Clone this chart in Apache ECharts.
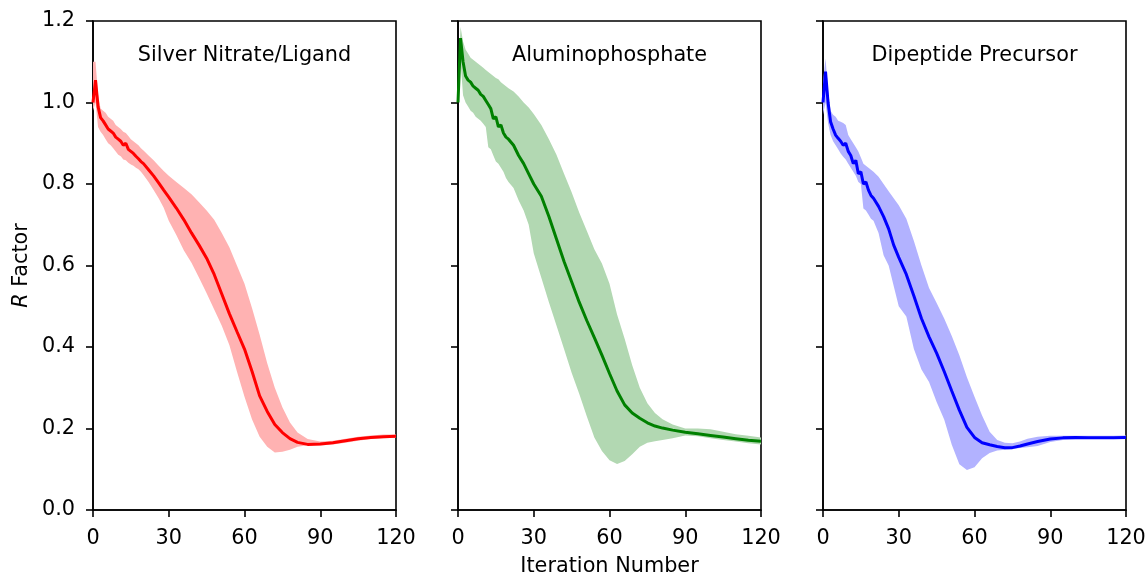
<!DOCTYPE html>
<html>
<head>
<meta charset="utf-8">
<script src="https://cdn.jsdelivr.net/npm/echarts@6/dist/echarts.min.js"></script>
<style>
  html, body { margin: 0; padding: 0; background: #fff; }
  #chart { width: 1145px; height: 577px; }
</style>
</head>
<body>
<div id="chart"></div>
<script>
// iteration grid shared by all three panels
const iters = [0,1,2,3,4,5,6,7,8,9,10,11,12,13,14,15,16,17,18,19,20,22,24,26,28,30,33,36,39,42,45,48,51,54,57,60,63,66,69,72,75,78,81,85,90,95,100,105,110,115,120]

const panelTitles = ['Silver Nitrate/Ligand', 'Aluminophosphate', 'Dipeptide Precursor']
const yTicks = [0, 0.2, 0.4, 0.6, 0.8, 1.0, 1.2]
const xTicks = [0, 30, 60, 90, 120]

// silver nitrate / ligand
const redMean = [1.00,1.055,0.99,0.963,0.955,0.945,0.935,0.93,0.925,0.915,0.91,0.905,0.895,0.9,0.885,0.88,0.875,0.868,0.862,0.855,0.85,0.835,0.82,0.803,0.785,0.768,0.741,0.712,0.68,0.65,0.618,0.578,0.53,0.482,0.438,0.395,0.34,0.28,0.242,0.21,0.19,0.175,0.166,0.161,0.162,0.165,0.17,0.175,0.178,0.18,0.181]
const redLow = [0.98,1.0,0.94,0.928,0.92,0.91,0.9,0.895,0.888,0.88,0.872,0.868,0.86,0.858,0.852,0.848,0.845,0.84,0.836,0.83,0.822,0.805,0.785,0.765,0.742,0.71,0.675,0.637,0.607,0.57,0.532,0.492,0.452,0.405,0.34,0.278,0.222,0.18,0.155,0.141,0.143,0.148,0.155,0.159,0.158,0.161,0.165,0.17,0.174,0.176,0.177]
const redHigh = [1.10,1.10,1.02,0.985,0.98,0.975,0.965,0.96,0.955,0.945,0.94,0.935,0.928,0.925,0.918,0.91,0.905,0.9,0.895,0.888,0.882,0.87,0.858,0.845,0.832,0.82,0.805,0.79,0.775,0.755,0.735,0.712,0.68,0.645,0.6,0.555,0.495,0.43,0.36,0.3,0.252,0.215,0.19,0.174,0.168,0.17,0.175,0.18,0.183,0.185,0.185]

// aluminophosphate
const greenMean = [1.0,1.158,1.1,1.065,1.055,1.05,1.04,1.035,1.03,1.02,1.015,1.005,0.995,0.985,0.96,0.965,0.94,0.945,0.925,0.915,0.91,0.895,0.87,0.85,0.825,0.8,0.77,0.72,0.665,0.61,0.56,0.51,0.465,0.423,0.38,0.335,0.292,0.258,0.238,0.225,0.214,0.206,0.201,0.196,0.191,0.187,0.183,0.179,0.175,0.171,0.169]
const greenLow = [1.0,1.1,1.018,1.0,0.99,0.98,0.975,0.965,0.96,0.955,0.948,0.94,0.89,0.885,0.87,0.855,0.85,0.84,0.83,0.815,0.805,0.79,0.76,0.735,0.7,0.63,0.57,0.51,0.453,0.395,0.337,0.285,0.23,0.178,0.145,0.122,0.113,0.12,0.137,0.155,0.165,0.169,0.172,0.176,0.183,0.181,0.176,0.172,0.168,0.164,0.161]
const greenHigh = [1.05,1.186,1.15,1.13,1.12,1.11,1.105,1.1,1.095,1.09,1.085,1.08,1.075,1.07,1.065,1.06,1.057,1.05,1.045,1.04,1.035,1.027,1.015,1.0,0.988,0.972,0.945,0.91,0.872,0.825,0.78,0.73,0.685,0.64,0.605,0.555,0.48,0.42,0.355,0.3,0.262,0.238,0.223,0.21,0.2,0.2,0.198,0.192,0.186,0.182,0.178]

// dipeptide precursor
const blueMean = [1.0,1.076,1.0,0.953,0.935,0.92,0.912,0.905,0.895,0.9,0.88,0.87,0.85,0.858,0.825,0.83,0.8,0.805,0.785,0.772,0.765,0.745,0.72,0.69,0.65,0.62,0.578,0.525,0.47,0.425,0.385,0.34,0.292,0.245,0.203,0.178,0.165,0.16,0.156,0.153,0.153,0.157,0.162,0.168,0.174,0.177,0.178,0.177,0.177,0.177,0.178]
const blueLow = [0.97,1.0,0.95,0.92,0.905,0.895,0.885,0.875,0.867,0.86,0.85,0.84,0.83,0.82,0.805,0.8,0.74,0.735,0.725,0.715,0.71,0.68,0.625,0.6,0.55,0.5,0.475,0.395,0.345,0.314,0.265,0.222,0.16,0.112,0.098,0.105,0.127,0.14,0.146,0.148,0.15,0.152,0.154,0.157,0.167,0.172,0.174,0.174,0.174,0.174,0.174]
const blueHigh = [1.05,1.108,1.03,0.98,0.97,0.965,0.955,0.953,0.95,0.945,0.92,0.91,0.9,0.89,0.88,0.865,0.85,0.845,0.84,0.835,0.83,0.818,0.8,0.782,0.765,0.748,0.715,0.66,0.6,0.545,0.508,0.47,0.427,0.38,0.326,0.278,0.232,0.192,0.172,0.165,0.164,0.168,0.175,0.18,0.182,0.182,0.182,0.182,0.182,0.182,0.183]

const panels = [
  {mean: redMean, low: redLow, high: redHigh, color: '#ff0000', band: '#ffb2b2'},
  {mean: greenMean, low: greenLow, high: greenHigh, color: '#008000', band: '#b2d8b2'},
  {mean: blueMean, low: blueLow, high: blueHigh, color: '#0000ff', band: '#b2b2ff'}
]

const font = 'DejaVu Sans'
const fs = 20.8
const gridLefts = [93, 458, 823]
const gridW = 303, gridTop = 21, gridH = 489

const chart = echarts.init(document.getElementById('chart'))

const grids = [], xAxes = [], yAxes = [], series = [], texts = []

// fill_between as one polygon: lower edge forward, upper edge back
function bandRenderer(color) {
  return (params, api) => {
    if (params.dataIndex !== 0) return
    const n = iters.length
    const pts = []
    for (let k = 0; k < n; k++) pts.push(api.coord([api.value(0, k), api.value(1, k)]))
    for (let k = n - 1; k >= 0; k--) pts.push(api.coord([api.value(0, k), api.value(2, k)]))
    return {
      type: 'polygon',
      shape: {points: pts},
      style: {fill: color, stroke: null},
      silent: true
    }
  }
}

panels.forEach((p, i) => {
  grids.push({left: gridLefts[i], top: gridTop, width: gridW, height: gridH,
    outerBoundsMode: 'none', containLabel: false,
    show: true, borderColor: '#000', borderWidth: 1.6, backgroundColor: 'transparent'})

  xAxes.push({
    type: 'value', gridIndex: i, min: xTicks[0], max: xTicks[xTicks.length - 1], interval: 30,
    name: i === 1 ? 'Iteration Number' : '', nameLocation: 'middle', nameGap: 46,
    nameTextStyle: {fontFamily: font, fontSize: fs, color: '#000'},
    axisLine: {lineStyle: {color: '#000', width: 1.6}},
    axisTick: {length: 7, lineStyle: {color: '#000', width: 1.6}},
    axisLabel: {fontFamily: font, fontSize: fs, color: '#000', margin: 18},
    splitLine: {show: false}
  })

  yAxes.push({
    type: 'value', gridIndex: i, min: yTicks[0], max: yTicks[yTicks.length - 1], interval: 0.2,
    name: i === 0 ? '{i|R} Factor' : '', nameLocation: 'middle', nameGap: 61,
    nameTextStyle: {fontFamily: font, fontSize: fs, color: '#000',
      rich: {i: {fontFamily: font, fontSize: fs, fontStyle: 'italic', color: '#000'}}},
    axisLine: {lineStyle: {color: '#000', width: 1.6}},
    axisTick: {length: 7, lineStyle: {color: '#000', width: 1.6}},
    axisLabel: {show: i === 0, fontFamily: font, fontSize: fs, color: '#000', margin: 18,
      formatter: v => v.toFixed(1)},
    splitLine: {show: false}
  })

  series.push({
    type: 'custom', xAxisIndex: i, yAxisIndex: i, silent: true, z: 1,
    renderItem: bandRenderer(p.band),
    encode: {x: 0, y: [1, 2]},
    data: iters.map((x, k) => [x, p.low[k], p.high[k]])
  })
  series.push({
    type: 'line', xAxisIndex: i, yAxisIndex: i, showSymbol: false, z: 5,
    lineStyle: {color: p.color, width: 3},
    data: iters.map((x, k) => [x, p.mean[k]])
  })

  texts.push({
    type: 'text', x: gridLefts[i] + gridW / 2, y: 56,
    style: {text: panelTitles[i], font: fs + 'px "' + font + '"', fill: '#000',
      align: 'center', verticalAlign: 'middle'}
  })
})

chart.setOption({
  animation: false,
  grid: grids,
  xAxis: xAxes,
  yAxis: yAxes,
  series: series,
  graphic: texts
})
</script>
</body>
</html>
